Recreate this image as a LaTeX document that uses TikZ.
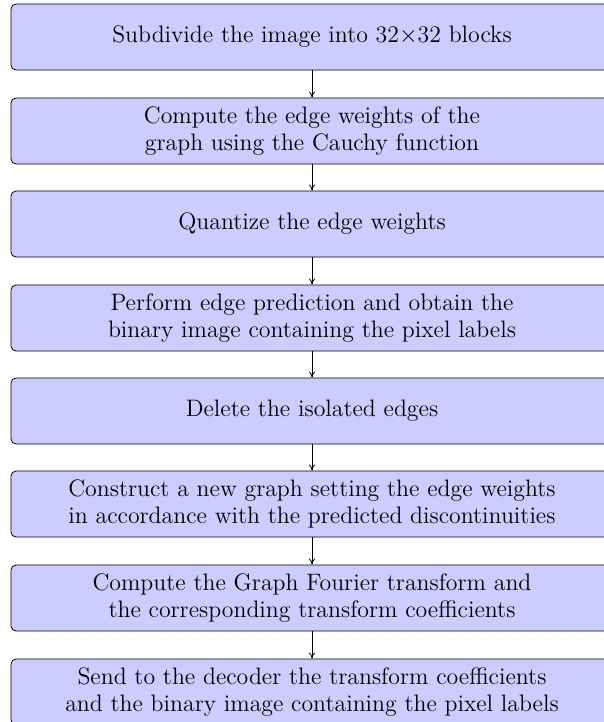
\documentclass[tikz,border=0pt]{standalone}
\usetikzlibrary{arrows.meta}
\begin{document}
\begin{tikzpicture}[x=0.5pt,y=-0.5pt,
  stepbox/.style={draw=black, line width=0.4pt, fill=blue!20, rounded corners=2.5pt,
    minimum width=301pt, minimum height=33pt, align=center, inner sep=0pt,
    font=\fontsize{11.9pt}{13.2pt}\selectfont},
  conn/.style={-{To[length=3pt,width=3pt]}, line width=0.4pt}]
\clip (0,0) rectangle (604,722);
\node[stepbox] (b1) at (312,37) {Subdivide the image into 32$\times$32 blocks};
\node[stepbox] (b2) at (312,131) {Compute the edge weights of the\\graph using the Cauchy function};
\node[stepbox] (b3) at (312,224) {Quantize the edge weights};
\node[stepbox] (b4) at (312,318) {Perform edge prediction and obtain the\\binary image containing the pixel labels};
\node[stepbox] (b5) at (312,411) {Delete the isolated edges};
\node[stepbox] (b6) at (312,504) {Construct a new graph setting the edge weights\\in accordance with the predicted discontinuities};
\node[stepbox] (b7) at (312,598) {Compute the Graph Fourier transform and\\the corresponding transform coefficients};
\node[stepbox] (b8) at (312,692) {Send to the decoder the transform coefficients\\and the binary image containing the pixel labels};
\draw[conn] (b1) -- (b2);
\draw[conn] (b2) -- (b3);
\draw[conn] (b3) -- (b4);
\draw[conn] (b4) -- (b5);
\draw[conn] (b5) -- (b6);
\draw[conn] (b6) -- (b7);
\draw[conn] (b7) -- (b8);
\end{tikzpicture}
\end{document}
